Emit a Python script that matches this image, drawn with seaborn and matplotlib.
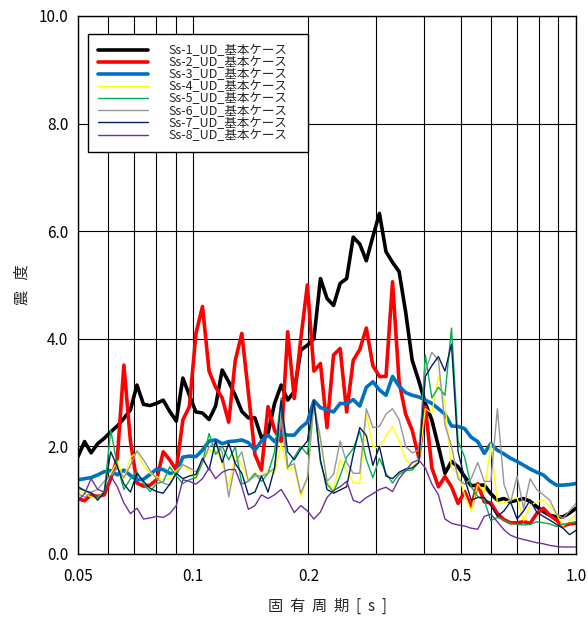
import pandas as pd
import matplotlib
matplotlib.use("Agg")
import matplotlib.pyplot as plt
from matplotlib.ticker import NullFormatter
import seaborn as sns

# natural periods [s]
periods = [0.05000, 0.05201, 0.05410, 0.05628, 0.05854, 0.06089, 0.06334, 0.06589, 0.06854, 0.07129,
           0.07416, 0.07714, 0.08024, 0.08347, 0.08682, 0.09032, 0.09395, 0.09772, 0.10165, 0.10574,
           0.10999, 0.11441, 0.11901, 0.12380, 0.12878, 0.13396, 0.13934, 0.14494, 0.15077, 0.15683,
           0.16314, 0.16970, 0.17652, 0.18362, 0.19100, 0.19868, 0.20667, 0.21498, 0.22362, 0.23261,
           0.24197, 0.25170, 0.26182, 0.27234, 0.28329, 0.29468, 0.30653, 0.31886, 0.33168, 0.34501,
           0.35888, 0.37331, 0.38832, 0.40394, 0.42018, 0.43707, 0.45464, 0.47292, 0.49194, 0.51172,
           0.53229, 0.55369, 0.57596, 0.59911, 0.62320, 0.64826, 0.67432, 0.70143, 0.72963, 0.75897,
           0.78948, 0.82123, 0.85425, 0.88859, 0.92432, 0.96148, 1.00000]

ss1 = [1.81, 2.09, 1.88, 2.05, 2.15, 2.27, 2.38, 2.52, 2.68, 3.14,
       2.78, 2.76, 2.80, 2.86, 2.65, 2.47, 3.27, 2.95, 2.64, 2.62,
       2.50, 2.75, 3.42, 3.20, 2.95, 2.65, 2.53, 2.53, 2.16, 2.25,
       2.80, 3.14, 2.86, 3.02, 3.79, 3.88, 4.00, 5.12, 4.75, 4.62,
       5.03, 5.12, 5.89, 5.76, 5.45, 5.90, 6.33, 5.62, 5.42, 5.25,
       4.50, 3.60, 3.22, 2.80, 2.49, 2.00, 1.50, 1.72, 1.62, 1.44,
       1.27, 1.28, 1.28, 1.12, 1.00, 1.03, 0.97, 1.00, 1.03, 0.98,
       0.88, 0.79, 0.72, 0.69, 0.69, 0.76, 0.85]

ss2 = [1.03, 0.99, 1.10, 1.07, 1.10, 1.40, 1.78, 3.51, 2.10, 1.32,
       1.26, 1.28, 1.38, 1.90, 1.75, 1.56, 2.49, 2.74, 4.10, 4.60,
       3.40, 3.10, 2.90, 2.45, 3.60, 4.10, 3.00, 1.85, 1.56, 2.74,
       2.30, 2.09, 4.13, 2.89, 4.00, 5.00, 3.40, 3.54, 2.35, 3.70,
       3.82, 2.64, 3.60, 3.80, 4.20, 3.50, 3.30, 3.30, 5.06, 3.20,
       2.60, 2.30, 1.80, 2.74, 1.60, 1.25, 1.44, 1.25, 0.94, 1.16,
       0.88, 1.31, 0.97, 0.95, 0.75, 0.64, 0.58, 0.58, 0.60, 0.57,
       0.75, 0.85, 0.72, 0.63, 0.52, 0.56, 0.57]

ss3 = [1.38, 1.40, 1.42, 1.47, 1.53, 1.55, 1.47, 1.56, 1.46, 1.38,
       1.39, 1.48, 1.58, 1.57, 1.50, 1.50, 1.80, 1.82, 1.81, 1.93,
       2.10, 2.12, 2.05, 2.09, 2.10, 2.12, 2.07, 1.93, 2.10, 2.21,
       2.09, 2.24, 2.21, 2.21, 2.35, 2.45, 2.85, 2.72, 2.68, 2.64,
       2.80, 2.79, 2.87, 2.75, 3.10, 3.20, 3.05, 2.95, 3.30, 3.12,
       3.00, 2.95, 2.92, 2.86, 2.80, 2.70, 2.60, 2.38, 2.37, 2.33,
       2.17, 2.09, 1.87, 2.05, 1.93, 1.86, 1.78, 1.72, 1.65, 1.58,
       1.52, 1.47, 1.36, 1.28, 1.28, 1.29, 1.31]

ss4 = [1.20, 1.12, 1.06, 1.03, 1.20, 1.50, 1.72, 1.40, 1.80, 1.88,
       1.65, 1.50, 1.44, 1.38, 1.40, 1.55, 1.66, 1.56, 1.40, 1.70,
       1.93, 1.93, 1.70, 1.25, 1.85, 1.65, 1.38, 1.50, 1.43, 1.56,
       1.50, 2.06, 1.56, 1.62, 1.07, 1.40, 2.80, 2.10, 1.35, 1.19,
       1.75, 1.55, 1.33, 1.31, 2.60, 2.00, 1.96, 2.20, 2.37, 2.10,
       1.75, 1.62, 1.73, 2.70, 2.62, 3.30, 2.80, 1.58, 1.50, 1.10,
       0.80, 1.30, 1.15, 2.05, 0.95, 0.95, 1.00, 1.05, 0.62, 0.90,
       0.97, 1.00, 0.88, 0.75, 0.52, 0.62, 0.73]

ss5 = [1.22, 1.18, 1.12, 1.04, 1.15, 2.30, 1.65, 1.20, 1.40, 1.53,
       1.30, 1.16, 1.31, 1.34, 1.62, 1.45, 1.31, 1.38, 1.42, 1.70,
       2.24, 1.85, 2.00, 1.75, 1.99, 1.30, 1.35, 1.50, 1.35, 1.50,
       1.90, 2.90, 1.60, 1.80, 2.00, 1.85, 2.85, 1.70, 1.30, 1.15,
       1.45, 1.80, 1.96, 2.28, 1.75, 1.42, 1.78, 1.50, 1.32, 1.48,
       1.55, 1.56, 1.70, 3.70, 2.90, 3.10, 2.95, 4.20, 2.10, 1.80,
       1.25, 1.07, 1.00, 0.62, 0.68, 0.63, 0.57, 0.55, 0.54, 0.55,
       0.60, 0.58, 0.56, 0.51, 0.55, 0.57, 0.60]

ss6 = [1.13, 1.05, 1.15, 1.20, 1.35, 1.45, 1.60, 1.42, 1.65, 1.92,
       1.75, 1.55, 1.40, 1.32, 1.28, 1.50, 1.66, 1.60, 1.53, 1.70,
       1.99, 2.06, 1.90, 1.06, 1.70, 1.90, 1.35, 1.45, 1.45, 1.50,
       1.60, 2.50, 1.62, 1.68, 1.13, 1.42, 2.80, 2.15, 1.35, 1.48,
       2.10, 1.70, 1.50, 1.50, 2.70, 2.35, 2.37, 2.60, 2.70, 2.50,
       2.00, 1.88, 1.93, 3.40, 3.75, 3.60, 2.40, 2.00, 1.40, 1.30,
       1.40, 1.70, 1.35, 1.35, 2.70, 1.30, 0.95, 1.45, 0.85, 1.40,
       1.20, 1.10, 1.00, 0.75, 0.66, 0.80, 0.94]

ss7 = [1.25, 1.18, 1.14, 1.00, 1.15, 1.90, 1.62, 1.30, 1.15, 1.50,
       1.35, 1.22, 1.16, 1.13, 1.30, 1.50, 1.40, 1.45, 1.48, 1.78,
       1.56, 2.10, 1.70, 2.06, 1.68, 1.50, 1.10, 1.15, 1.45, 1.15,
       1.60, 2.85, 1.90, 1.75, 1.95, 2.10, 2.85, 1.75, 1.20, 1.13,
       1.19, 1.25, 1.85, 2.35, 2.20, 1.65, 2.00, 1.45, 1.40, 1.52,
       1.58, 1.60, 1.70, 3.30, 3.50, 3.67, 3.40, 3.90, 1.90, 1.40,
       1.00, 1.05, 1.05, 0.90, 0.70, 0.80, 0.97, 0.65, 0.80, 1.00,
       0.78, 0.70, 0.63, 0.55, 0.48, 0.36, 0.44]

ss8 = [1.00, 1.12, 1.40, 1.20, 1.15, 1.45, 1.25, 0.95, 0.75, 0.85,
       0.65, 0.67, 0.70, 0.68, 0.75, 0.90, 1.38, 1.35, 1.30, 1.40,
       1.60, 1.40, 1.52, 1.57, 1.57, 1.25, 0.83, 0.90, 1.10, 1.03,
       1.10, 1.20, 1.00, 0.77, 0.90, 0.80, 0.65, 0.78, 1.05, 1.18,
       1.25, 1.35, 1.00, 0.95, 1.05, 1.12, 1.20, 1.24, 1.16, 1.40,
       1.55, 1.70, 1.75, 1.60, 1.30, 1.10, 0.65, 0.57, 0.54, 0.52,
       0.48, 0.46, 0.70, 0.74, 0.60, 0.45, 0.35, 0.30, 0.27, 0.24,
       0.21, 0.19, 0.16, 0.14, 0.13, 0.13, 0.13]

cases = ["Ss-1_UD_基本ケース", "Ss-2_UD_基本ケース", "Ss-3_UD_基本ケース", "Ss-4_UD_基本ケース",
         "Ss-5_UD_基本ケース", "Ss-6_UD_基本ケース", "Ss-7_UD_基本ケース", "Ss-8_UD_基本ケース"]
colors = ["#000000", "#FF0000", "#0070C0", "#FFFF00", "#00B050", "#969696", "#002060", "#7030A0"]
widths = [2.6, 2.6, 2.6, 1.0, 1.0, 1.0, 1.0, 1.0]

sns.set_theme(style="white")
plt.rcParams['font.family'] = ['Noto Sans CJK JP', 'DejaVu Sans']

frames = []
for name, vals in zip(cases, [ss1, ss2, ss3, ss4, ss5, ss6, ss7, ss8]):
    frames.append(pd.DataFrame({"period": periods, "value": vals, "case": name}))
df = pd.concat(frames, ignore_index=True)

fig = plt.figure(figsize=(5.88, 6.17), dpi=100)
ax = fig.add_axes([78/588, 1 - 554/617, 498/588, 538/617])

sns.lineplot(data=df, x="period", y="value", hue="case", size="case",
             palette=dict(zip(cases, colors)), sizes=dict(zip(cases, widths)),
             estimator=None, errorbar=None, legend=False, ax=ax)

ax.set_xscale("log")
ax.set_xlim(0.05, 1.0)
ax.set_ylim(0, 10)
ax.set_xticks([0.05, 0.1, 0.2, 0.5, 1.0])
ax.set_xticklabels(["0.05", "0.1", "0.2", "0.5", "1.0"])
ax.set_xticks([0.06, 0.07, 0.08, 0.09, 0.3, 0.4, 0.6, 0.7, 0.8, 0.9], minor=True)
ax.xaxis.set_minor_formatter(NullFormatter())
ax.set_yticks([0, 2, 4, 6, 8, 10])
ax.set_yticklabels(["0.0", "2.0", "4.0", "6.0", "8.0", "10.0"])
ax.tick_params(which="both", length=0, labelsize=11, colors="black")
ax.tick_params(axis="x", pad=10)
ax.tick_params(axis="y", pad=7)

ax.set_axisbelow(True)
ax.grid(True, which="both", color="black", linewidth=0.8)
for sp in ax.spines.values():
    sp.set_color("black")
    sp.set_linewidth(1.0)

ax.set_xlabel("固  有  周  期  [  s  ]", fontsize=11, labelpad=9)
ax.set_ylabel("震   度", fontsize=11, labelpad=6)

leg = ax.legend(ax.lines[:8], cases, loc="upper left",
                bbox_to_anchor=(0.0201, 0.5, 0.4418, 0.4665), mode="expand",
                borderaxespad=0, fancybox=False, framealpha=1, edgecolor="black",
                fontsize=9, handlelength=4, handletextpad=1.6, labelspacing=-0.07,
                borderpad=0.8)
leg.get_frame().set_linewidth(1.0)

plt.savefig("out.png", dpi=100)
